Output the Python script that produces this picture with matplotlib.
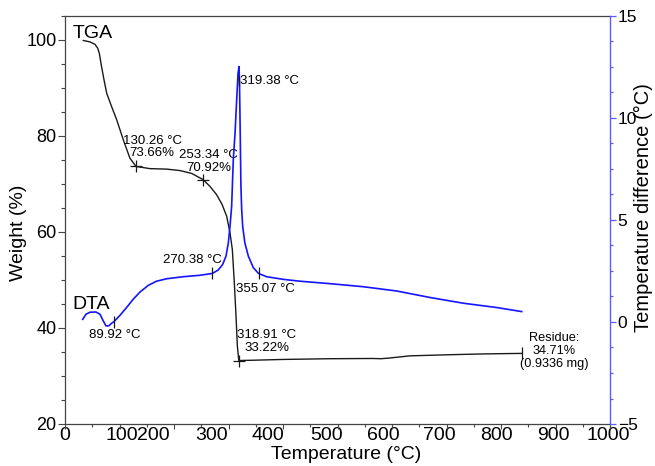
import matplotlib
matplotlib.use('Agg')
import matplotlib.pyplot as plt
from matplotlib import font_manager
from matplotlib.ticker import MultipleLocator

plt.rcParams['font.family'] = ['Liberation Sans', 'DejaVu Sans']

# ---------------- data ----------------
tga_temp = [33.6, 45.9, 55, 60, 63, 67, 71.6, 76.5, 85.6, 94.8, 107, 119, 130.26, 156, 186.6,
            211, 232.5, 253.34, 266, 278, 288, 296.6, 302.8, 307, 310.7, 313.8, 316.2, 318.91,
            350, 400, 486, 565, 580, 596, 633, 712, 767, 838]
tga_weight = [99.9, 99.6, 99.1, 98.3, 97.2, 94.5, 91.7, 88.9, 86.1, 83.4, 79.2, 75.4, 73.66, 73.2, 73.1,
              72.8, 72.2, 70.92, 69.5, 67.8, 65.8, 63.3, 59.8, 56.4, 49.4, 42.5, 36.3, 33.22,
              33.3, 33.45, 33.6, 33.65, 33.6, 33.75, 34.2, 34.45, 34.6, 34.71]

dta_temp = [32.4, 38.5, 45.9, 56.9, 64.2, 70.3, 75.2, 80.1, 85.6, 89.92, 101, 113, 125, 137.6, 153,
            168, 186.6, 217, 247.7, 270.38, 281.3, 289.3, 295.4, 299.7, 302.8, 305.8, 308.8, 312,
            315, 317.5, 319.38, 320.3, 321.5, 322.8, 324.2, 326, 330, 336.4, 345.6, 355.07, 370,
            400.6, 431, 486, 547, 608.6, 670, 731, 792, 838]
dta_diff = [0.13, 0.38, 0.48, 0.49, 0.38, 0.05, -0.19, -0.19, -0.06, 0.02, 0.33, 0.71, 1.11, 1.47, 1.8,
            2.0, 2.12, 2.22, 2.29, 2.38, 2.55, 2.82, 3.23, 3.88, 4.7, 5.68, 7.96, 9.26,
            10.9, 12.2, 12.52, 11.54, 9.26, 6.65, 5.51, 4.7, 3.88, 3.23, 2.66, 2.38, 2.22,
            2.09, 2.0, 1.88, 1.73, 1.52, 1.2, 0.92, 0.71, 0.51]

tga_mark_temp = [130.26, 253.34, 318.91]
tga_mark_weight = [73.66, 70.92, 33.22]
dta_mark_temp = [89.92, 270.38, 355.07]
dta_mark_diff = [0.02, 2.38, 2.38]
peak_temp = [319.38]
peak_diff = [11.8]
residue_temp = [838]
residue_weight = [34.71]

xtick_values = [0, 100, 200, 300, 400, 500, 600, 700, 800, 900, 1000]
xtick_label_pos = [0, 104, 162, 268, 373, 479, 584, 687, 791, 897, 997]
xtick_labels = [str(v) for v in xtick_values]
left_ticks = [20, 40, 60, 80, 100]
right_ticks = [-5, 0, 5, 10, 15]

# ---------------- figure ----------------
W, H = 655, 466
fig = plt.figure(figsize=(W / 100, H / 100), dpi=100)
L, R, T, B = 65, 610, 16, 424
ax = fig.add_axes([L / W, 1 - B / H, (R - L) / W, (B - T) / H])
ax2 = ax.twinx()

spine_col = '#444444'
blue_spine = '#5c5cff'
tga_col = '#1a1a1a'
dta_col = '#1414ff'

ax.plot(tga_temp, tga_weight, color=tga_col, lw=1.0, zorder=2)
ax.plot(tga_mark_temp, tga_mark_weight, ls='none', marker='+', ms=8, mew=0.9, color=tga_col)
ax.plot(residue_temp, residue_weight, ls='none', marker='|', ms=9, mew=0.9, color=tga_col)

ax2.plot(dta_temp, dta_diff, color=dta_col, lw=1.2, zorder=2)
ax2.plot(dta_mark_temp, dta_mark_diff, ls='none', marker='|', ms=8, mew=0.9, color=tga_col, zorder=3)
ax2.plot(peak_temp, peak_diff, ls='none', marker='|', ms=7, mew=0.9, color=tga_col, zorder=3)

ax.set_xlim(0, 1000)
ax.set_ylim(20, 105)
ax2.set_ylim(-5, 15)

# spines
for s in ['left', 'bottom', 'top']:
    ax.spines[s].set_color(spine_col)
    ax.spines[s].set_linewidth(0.9)
ax.spines['right'].set_visible(False)
for s in ['left', 'bottom', 'top']:
    ax2.spines[s].set_visible(False)
ax2.spines['right'].set_color(blue_spine)
ax2.spines['right'].set_linewidth(1.0)

# x ticks (marks)
ax.set_xticks(xtick_values)
ax.set_xticklabels([])
ax.xaxis.set_minor_locator(MultipleLocator(50))
ax.tick_params(axis='x', which='major', direction='out', length=3.5, width=0.8, color=spine_col)
ax.tick_params(axis='x', which='minor', direction='out', length=2.5, width=0.8, color=spine_col)

# x tick labels (at their original, shifted positions)
names = {f.name for f in font_manager.fontManager.ttflist}
sec = ax.secondary_xaxis('bottom')
sec.set_xticks(xtick_label_pos, xtick_labels)
sec.tick_params(length=0, pad=2)
sec.spines['bottom'].set_visible(False)
if 'Liberation Sans Narrow' in names:
    xfam, xsize = ['Liberation Sans Narrow', 'Liberation Sans'], 17
else:
    xfam, xsize = ['Liberation Sans', 'DejaVu Sans'], 14
for lab in sec.get_xticklabels():
    lab.set_fontfamily(xfam)
    lab.set_fontsize(xsize)

# left y ticks
ax.set_yticks(left_ticks)
ax.yaxis.set_minor_locator(MultipleLocator(5))
ax.tick_params(axis='y', which='major', direction='out', length=5, width=0.8, color=spine_col,
               pad=1, labelsize=13)
ax.tick_params(axis='y', which='minor', direction='out', length=3, width=0.8, color=spine_col)

# right y ticks
ax2.set_yticks(right_ticks)
ax2.yaxis.set_minor_locator(MultipleLocator(1.25))
ax2.tick_params(axis='y', which='major', direction='out', length=4, width=0.9, color=blue_spine,
                pad=1.5, labelsize=12.5, labelcolor='black')
ax2.tick_params(axis='y', which='minor', direction='out', length=2.5, width=0.9, color=blue_spine)

# axis labels
ax.set_xlabel('Temperature (°C)', fontsize=14)
ax.xaxis.set_label_coords((346 - L) / (R - L), (B - 446) / (B - T))
ax.set_ylabel('Weight (%)', fontsize=14)
ax.yaxis.set_label_coords((27 - L) / (R - L), (B - 233) / (B - T))
ax2.set_ylabel('Temperature difference (°C)', fontsize=14.5)
ax2.yaxis.set_label_coords((634 - L) / (R - L), (B - 208) / (B - T))

# curve names
ax.text(14.7, 100.4, 'TGA', fontsize=14, ha='left', va='baseline')
ax2.text(12.8, 0.62, 'DTA', fontsize=14, ha='left', va='baseline')

# annotations
fs = 9.5
ax.text(160, 77.7, '130.26 °C\n73.66%', fontsize=fs, ha='center', va='center', linespacing=1.1)
ax.text(263, 74.75, '253.34 °C\n70.92%', fontsize=fs, ha='center', va='center', linespacing=1.15)
ax.text(370.6, 37.1, '318.91 °C\n33.22%', fontsize=fs, ha='center', va='center', linespacing=1.1)
ax.text(897, 35.2, 'Residue:\n34.71%\n(0.9336 mg)', fontsize=9.2, ha='center', va='center',
        linespacing=1.1)
ax2.text(321, 11.82, '319.38 °C', fontsize=fs, ha='left', va='center')
ax2.text(233, 3.02, '270.38 °C', fontsize=fs, ha='center', va='center')
ax2.text(367, 1.6, '355.07 °C', fontsize=fs, ha='center', va='center')
ax2.text(91.7, -0.65, '89.92 °C', fontsize=fs, ha='center', va='center')

fig.savefig('out.png', dpi=100)
